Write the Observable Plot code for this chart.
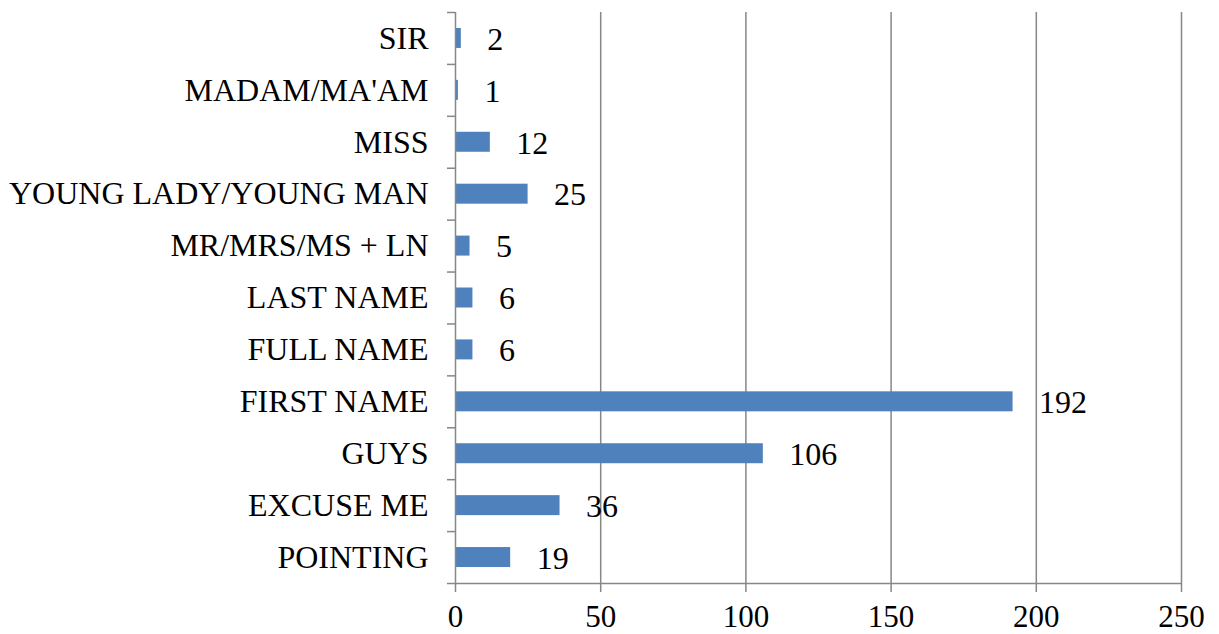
<!DOCTYPE html>
<html>
<head>
<meta charset="utf-8">
<script src="https://cdn.jsdelivr.net/npm/d3@7"></script>
<script src="https://cdn.jsdelivr.net/npm/@observablehq/plot@0.6"></script>
<style>
  html, body { margin: 0; padding: 0; background: #fff; }
  #chart svg { display: block; }
</style>
</head>
<body>
<div id="chart"></div>
<script>
const categories = ["SIR", "MADAM/MA'AM", "MISS", "YOUNG LADY/YOUNG MAN", "MR/MRS/MS + LN", "LAST NAME", "FULL NAME", "FIRST NAME", "GUYS", "EXCUSE ME", "POINTING"];
const values = [2, 1, 12, 25, 5, 6, 6, 192, 106, 36, 19];
const xTicks = [0, 50, 100, 150, 200, 250];

const data = categories.map((c, i) => ({category: c, value: values[i]}));

const W = 1219, H = 634;
const mL = 455, mR = 38, mT = 12, mB = 51;
const step = (H - mT - mB) / categories.length;
const unit = (W - mL - mR) / 250;
const grey = "#878787";
const font = "'Liberation Serif', 'Times New Roman', serif";

const chart = Plot.plot({
  width: W,
  height: H,
  marginLeft: mL,
  marginRight: mR,
  marginTop: mT,
  marginBottom: mB,
  style: {fontFamily: font, fontSize: "32px", color: "#000", background: "#fff"},
  x: {domain: [0, 250], ticks: xTicks, round: false},
  y: {domain: categories, paddingInner: 0.615, paddingOuter: 0.3075, round: false},
  marks: [
    Plot.ruleX(xTicks.filter(d => d > 0), {x: d => d, stroke: grey, strokeWidth: 1.5}),
    Plot.barX(data, {y: "category", x: "value", fill: "#4f81bd"}),
    Plot.text(data, {y: "category", x: "value", text: d => String(d.value), textAnchor: "start", dx: 26, dy: 1, fontSize: 32, fill: "#000"}),
    Plot.ruleX([0], {stroke: grey, strokeWidth: 1.5}),
    Plot.ruleY(categories, {y: d => d, x1: -8 / unit, x2: 0, dy: -step / 2, stroke: grey, strokeWidth: 1.5}),
    Plot.ruleY([categories[categories.length - 1]], {y: d => d, x1: -8 / unit, x2: 250, dy: step / 2, stroke: grey, strokeWidth: 1.5}),
    Plot.axisX({ticks: xTicks, tickSize: 9, tickPadding: 12, stroke: grey, strokeWidth: 1.5, fill: "#000", fontSize: 31, label: null}),
    Plot.axisY({tickSize: 0, tickPadding: 27, fill: "#000", fontSize: 32, label: null})
  ]
});

document.getElementById("chart").appendChild(chart);
</script>
</body>
</html>
